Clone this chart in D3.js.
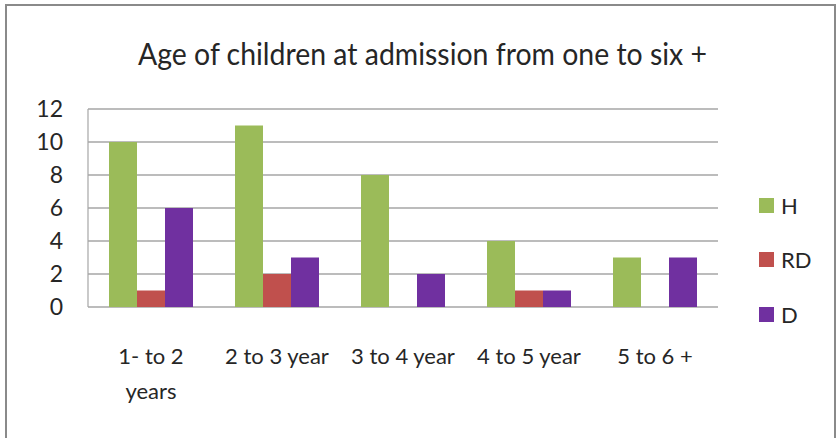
<!DOCTYPE html>
<html>
<head>
<meta charset="utf-8">
<script src="https://cdn.jsdelivr.net/npm/d3@7/dist/d3.min.js"></script>
<style>
  html, body { margin: 0; padding: 0; background: #fff; }
  svg { display: block; font-family: Lato, "Open Sans", sans-serif; }
</style>
</head>
<body>
<svg id="chart" width="840" height="438"></svg>
<script>
// Age groups at admission and counts per outcome
const categories = ["1- to 2 years", "2 to 3 year", "3 to 4 year", "4 to 5 year", "5 to 6 +"];
const seriesNames = ["H", "RD", "D"];
const valuesH  = [10, 11, 8, 4, 3];
const valuesRD = [1, 2, 0, 1, 0];
const valuesD  = [6, 3, 2, 1, 3];
const yTicks = [0, 2, 4, 6, 8, 10, 12];
const titleText = "Age of children at admission from one to six +";

const colors = { H: "#9BBB59", RD: "#C0504D", D: "#7030A0" };
const seriesValues = { H: valuesH, RD: valuesRD, D: valuesD };
const textColor = "#262626";

const svg = d3.select("#chart");

// outer frame
svg.append("rect")
  .attr("x", 6).attr("y", 5).attr("width", 829).attr("height", 445)
  .attr("fill", "#fff").attr("stroke", "#8a8a8a").attr("stroke-width", 2);

const plot = { left: 88, right: 718, top: 109, bottom: 307 };

const x = d3.scaleBand().domain(categories).range([plot.left, plot.right]).paddingInner(0).paddingOuter(0);
const x1 = d3.scaleBand().domain(seriesNames).range([0, x.bandwidth()]).paddingOuter(0.75).paddingInner(0);
const y = d3.scaleLinear().domain([0, 12]).range([plot.bottom, plot.top]);

// gridlines
svg.append("g").selectAll("line").data(yTicks).join("line")
  .attr("x1", plot.left).attr("x2", plot.right)
  .attr("y1", d => y(d)).attr("y2", d => y(d))
  .attr("stroke", "#a6a6a6").attr("stroke-width", 1.6);

// left axis line
svg.append("line")
  .attr("x1", plot.left).attr("x2", plot.left)
  .attr("y1", plot.top).attr("y2", plot.bottom)
  .attr("stroke", "#a6a6a6").attr("stroke-width", 1.2);

// y axis labels
const yAxis = d3.axisLeft(y).tickValues(yTicks).tickSize(0).tickPadding(0);
const yg = svg.append("g").attr("transform", `translate(${plot.left - 25},0)`).call(yAxis);
yg.select(".domain").remove();
yg.selectAll("text").attr("font-size", 23).attr("fill", textColor).attr("font-family", "Lato, sans-serif");

// bars
const groups = svg.append("g").selectAll("g").data(categories).join("g")
  .attr("transform", d => `translate(${x(d)},0)`);
groups.selectAll("rect")
  .data((c, i) => seriesNames.map(s => ({ s, v: seriesValues[s][i] })))
  .join("rect")
  .attr("x", d => x1(d.s))
  .attr("width", x1.bandwidth())
  .attr("y", d => y(d.v))
  .attr("height", d => y(0) - y(d.v))
  .attr("fill", d => colors[d.s]);

// category labels (wrapped to fit the band)
const catLines = {
  "1- to 2 years": ["1- to 2", "years"]
};
const xl = svg.append("g");
categories.forEach(c => {
  const lines = catLines[c] || [c];
  const cx = x(c) + x.bandwidth() / 2;
  const t = xl.append("text")
    .attr("x", cx)
    .attr("y", 364)
    .attr("text-anchor", "middle")
    .attr("font-size", 22)
    .attr("fill", textColor);
  lines.forEach((ln, k) => {
    t.append("tspan").attr("x", cx).attr("dy", k === 0 ? 0 : 35).text(ln);
  });
});

// legend
const legendY = [205.5, 259.5, 314.5];
const lg = svg.append("g");
seriesNames.forEach((s, i) => {
  lg.append("rect").attr("x", 759).attr("y", legendY[i] - 7.5).attr("width", 15).attr("height", 15).attr("fill", colors[s]);
  lg.append("text").attr("x", 781).attr("y", legendY[i] + 8)
    .attr("font-size", 22).attr("fill", textColor).text(s);
});

// title
svg.append("text")
  .attr("x", 138).attr("y", 65)
  .attr("font-size", 30).attr("fill", textColor)
  .attr("textLength", 569).attr("lengthAdjust", "spacingAndGlyphs")
  .text(titleText);
</script>
</body>
</html>
